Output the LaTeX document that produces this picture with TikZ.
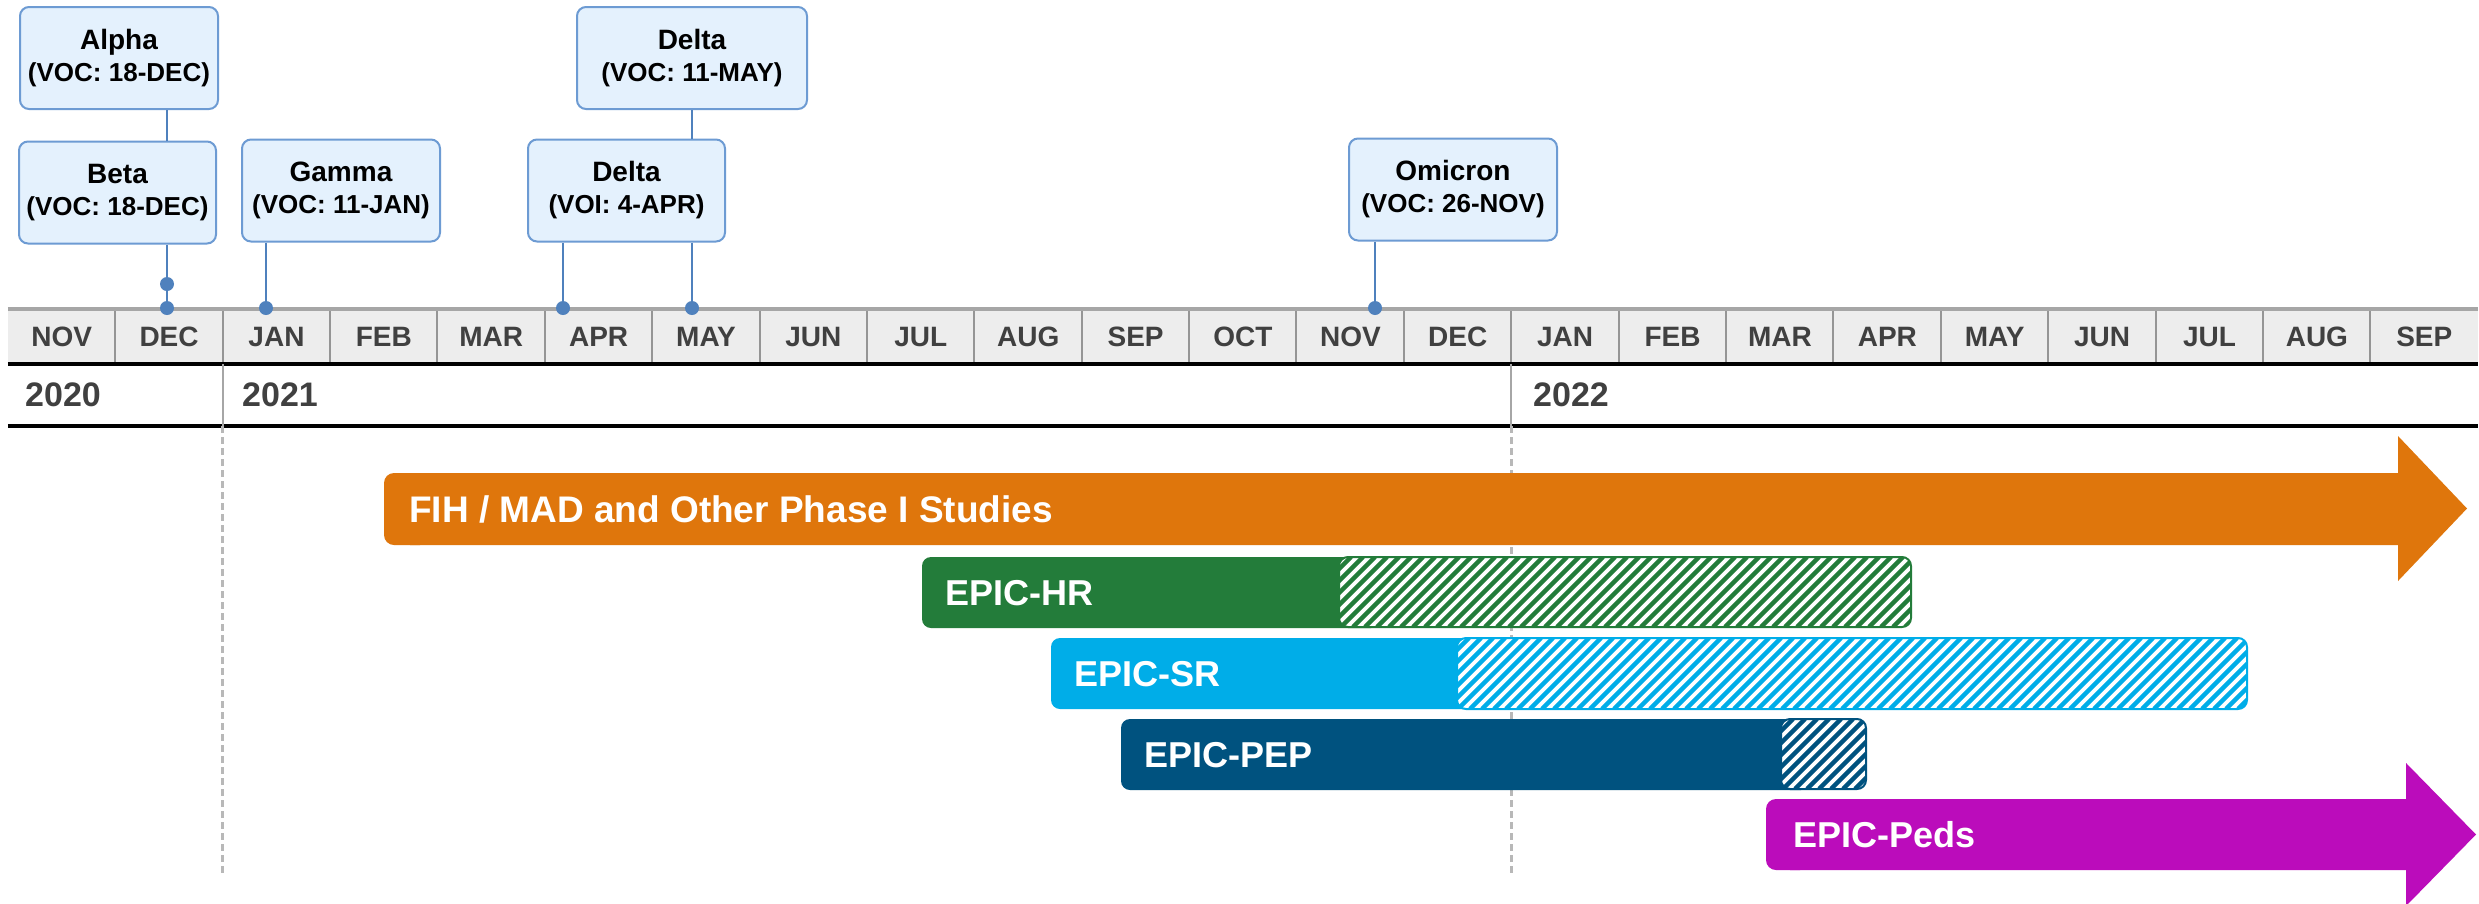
\documentclass[tikz,border=0pt]{standalone}
\usepackage{fontspec}
\setmainfont{Liberation Sans}
\definecolor{boxfill}{HTML}{E4F1FD}
\definecolor{boxdraw}{HTML}{6D9BD3}
\definecolor{connc}{HTML}{4F81BD}
\definecolor{monthfill}{HTML}{EDEDED}
\definecolor{monthsep}{HTML}{959595}
\definecolor{monthtop}{HTML}{A6A6A6}
\definecolor{dashc}{HTML}{B8B8B8}
\definecolor{txtgray}{HTML}{404040}
\definecolor{orangec}{HTML}{DF760C}
\definecolor{greenc}{HTML}{237C3A}
\definecolor{cyanc}{HTML}{00ADE8}
\definecolor{navyc}{HTML}{00527F}
\definecolor{magc}{HTML}{BB0CBB}
\newcommand\hatchbar[5]{%
  \begin{scope}
    \clip[rounded corners=9pt] (#1,#2) rectangle (#3,#4);
    \fill[white] (#1,#2) rectangle (#3,#4);
    \pgfmathsetmacro\hh{#4-#2}
    \pgfmathsetmacro\ks{#1-\hh}
    \pgfmathsetmacro\kn{#1-\hh+12}
    \foreach \k in {\ks,\kn,...,#3} \draw[#5, line width=4.3pt] (\k,#4) -- ({\k+\hh},#2);
  \end{scope}
  \draw[#5, line width=2pt, rounded corners=9pt] (#1,#2) rectangle (#3,#4);}
\begin{document}
\begin{tikzpicture}[x=1pt,y=-1pt,
  variant/.style={draw=boxdraw, fill=boxfill, line width=2pt, rounded corners=9pt,
    align=center, text=black, inner sep=0pt, minimum height=102pt,
    font=\fontsize{26}{32}\selectfont\bfseries},
  monthcell/.style={fill=monthfill, minimum width=107.39pt, minimum height=55pt,
    inner sep=0pt, text=txtgray, font=\fontsize{28}{30}\selectfont\bfseries},
  yearlabel/.style={anchor=west, inner sep=0pt, text=txtgray, font=\fontsize{34}{36}\selectfont\bfseries},
  conn/.style={draw=connc, line width=2.5pt},
  dot/.style={circle, fill=connc, inner sep=0pt, minimum size=14pt},
  barlabel/.style={anchor=west, inner sep=0pt, text=white, font=\fontsize{36}{40}\selectfont\bfseries},
  guide/.style={draw=monthtop, line width=2pt},
  guidedash/.style={draw=dashc, line width=2.6pt, dash pattern=on 7pt off 4pt}]
\useasboundingbox (0,0) rectangle (2479,903);
\fill[white] (0,0) rectangle (2479,903);

% month row
\foreach \m [count=\i from 0] in {NOV,DEC,JAN,FEB,MAR,APR,MAY,JUN,JUL,AUG,SEP,OCT,NOV,DEC,JAN,FEB,MAR,APR,MAY,JUN,JUL,AUG,SEP}
  \node[monthcell] (m\i) at ({8+107.39*(\i+0.5)},336.5) {\m};
\foreach \i in {1,...,22} \draw[monthsep, line width=2pt] (m\i.north west) -- (m\i.south west);
\draw[monthtop, line width=4pt] (m0.north west) -- (m22.north east);
\draw[black, line width=4pt] (m0.south west) -- (m22.south east);

% year row
\coordinate (yb) at (0,426);
\coordinate (ye) at (0,875);
\draw[black, line width=4pt] (m0.south west |- yb) -- (m22.south east |- yb);
\node[yearlabel] (y2020) at (25,395) {2020};
\node[yearlabel] (y2021) at (242,395) {2021};
\node[yearlabel] (y2022) at (1533,395) {2022};
\draw[guide] (m2.south west) -- (m2.south west |- yb);
\draw[guide] (m14.south west) -- (m14.south west |- yb);
\draw[guidedash] (m2.south west |- yb) -- (m2.south west |- ye);
\draw[guidedash] (m14.south west |- yb) -- (m14.south west |- ye);

% FIH arrow
\fill[orangec, rounded corners=10pt] (384,473) rectangle (430,545);
\fill[orangec] (410,473) -- (2398,473) -- (2398,436) -- (2467,508.5) -- (2398,581) -- (2398,545) -- (410,545) -- cycle;
\node[barlabel, font=\fontsize{37}{40}\selectfont\bfseries] (lfih) at (409,509) {FIH / MAD and Other Phase I Studies};

% EPIC-HR
\fill[greenc, rounded corners=9pt] (922,557) rectangle (1380,628);
\hatchbar{1339}{557}{1911}{627}{greenc}
\node[barlabel] (lhr) at (945,593) {EPIC-HR};

% EPIC-SR
\fill[cyanc, rounded corners=9pt] (1051,638) rectangle (1490,709);
\hatchbar{1457}{638}{2247}{709}{cyanc}
\node[barlabel] (lsr) at (1074,674) {EPIC-SR};

% EPIC-PEP
\fill[navyc, rounded corners=9pt] (1121,719) rectangle (1810,790);
\hatchbar{1781}{719}{1866}{789}{navyc}
\node[barlabel] (lpep) at (1144,755) {EPIC-PEP};

% EPIC-Peds arrow
\fill[magc, rounded corners=10pt] (1766,799) rectangle (1810,870);
\fill[magc] (1790,799) -- (2406,799) -- (2406,763) -- (2476,834.5) -- (2406,906) -- (2406,870) -- (1790,870) -- cycle;
\node[barlabel] (lpeds) at (1793,835) {EPIC-Peds};

% variant boxes
\node[variant, minimum width=198pt] (alpha) at (119,58) {{\fontsize{28}{32}\selectfont Alpha}\\(VOC: 18-DEC)};
\node[variant, minimum width=197pt] (beta) at (117.5,192.5) {{\fontsize{28}{32}\selectfont Beta}\\(VOC: 18-DEC)};
\node[variant, minimum width=198pt] (gamma) at (341,190.5) {{\fontsize{28}{32}\selectfont Gamma}\\(VOC: 11-JAN)};
\node[variant, minimum width=197pt] (deltaa) at (626.5,190.5) {{\fontsize{28}{32}\selectfont Delta}\\(VOI: 4-APR)};
\node[variant, minimum width=230pt] (deltab) at (692,58) {{\fontsize{28}{32}\selectfont Delta}\\(VOC: 11-MAY)};
\node[variant, minimum width=208pt] (omicron) at (1453,189.5) {{\fontsize{28}{32}\selectfont Omicron}\\(VOC: 26-NOV)};

% connectors
\coordinate (cDEC) at (167,308);
\coordinate (cDECb) at (167,284);
\coordinate (cJAN) at (266,308);
\coordinate (cAPR) at (563,308);
\coordinate (cMAY) at (692,308);
\coordinate (cNOV) at (1375,308);
\draw[conn] (alpha.south -| cDEC) -- (beta.north -| cDEC);
\draw[conn] (beta.south -| cDEC) -- (cDEC);
\draw[conn] (gamma.south -| cJAN) -- (cJAN);
\draw[conn] (deltaa.south -| cAPR) -- (cAPR);
\draw[conn] (deltab.south -| cMAY) -- (deltaa.north -| cMAY);
\draw[conn] (deltaa.south -| cMAY) -- (cMAY);
\draw[conn] (omicron.south -| cNOV) -- (cNOV);
\node[dot] (dDEC) at (cDEC) {};
\node[dot] (dDECb) at (cDECb) {};
\node[dot] (dJAN) at (cJAN) {};
\node[dot] (dAPR) at (cAPR) {};
\node[dot] (dMAY) at (cMAY) {};
\node[dot] (dNOV) at (cNOV) {};
\end{tikzpicture}
\end{document}
